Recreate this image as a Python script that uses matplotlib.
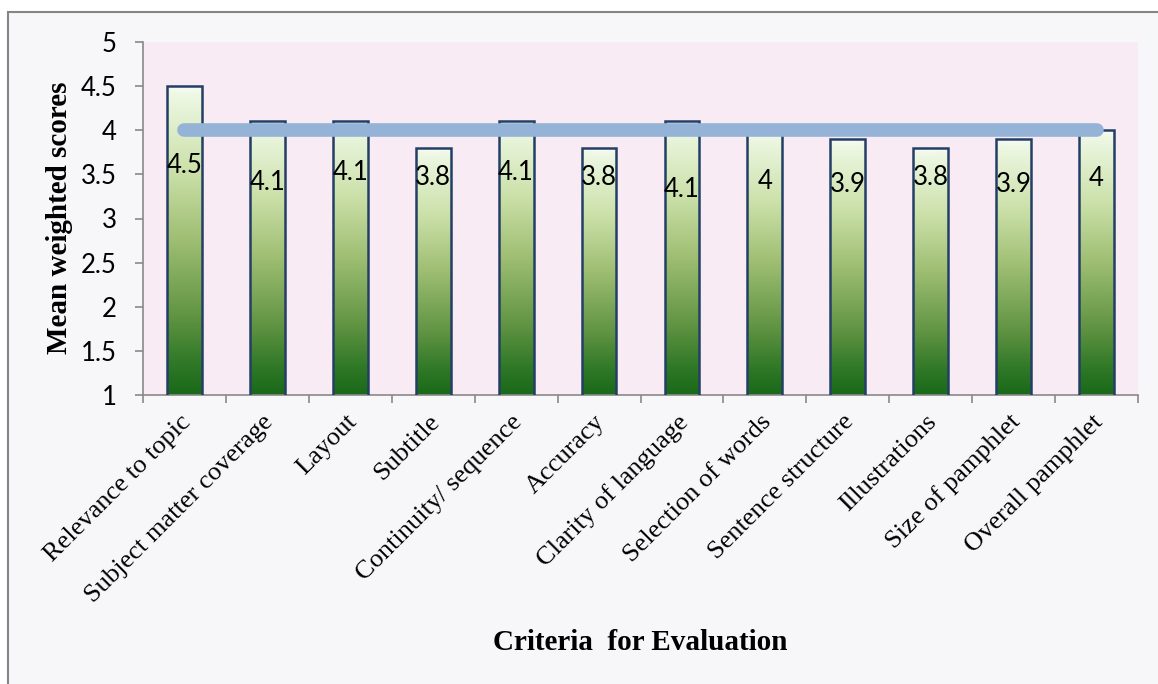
import matplotlib
matplotlib.use("Agg")
import matplotlib.pyplot as plt
import matplotlib.transforms as mtransforms
from matplotlib.colors import LinearSegmentedColormap
from matplotlib.patches import Rectangle
import numpy as np

# criteria and mean weighted scores
criteria = ["Relevance to topic", "Subject matter coverage", "Layout", "Subtitle",
            "Continuity/ sequence", "Accuracy", "Clarity of language",
            "Selection of words", "Sentence structure", "Illustrations",
            "Size of pamphlet", "Overall pamphlet"]
scores = [4.5, 4.1, 4.1, 3.8, 4.1, 3.8, 4.1, 4.0, 3.9, 3.8, 3.9, 4.0]
score_text = ["4.5", "4.1", "4.1", "3.8", "4.1", "3.8", "4.1", "4", "3.9", "3.8", "3.9", "4"]
mean_score = 4.0
yticks = [1, 1.5, 2, 2.5, 3, 3.5, 4, 4.5, 5]
ytick_text = ["1", "1.5", "2", "2.5", "3", "3.5", "4", "4.5", "5"]

# heights where the value labels sit inside the bars
label_y = [3.60, 3.41, 3.52, 3.46, 3.52, 3.46, 3.33, 3.42, 3.39, 3.46, 3.38, 3.45]

W, H = 1158, 684
fig = plt.figure(figsize=(W / 100, H / 100), dpi=100, facecolor="white")

# chart area frame
fig.patches.append(Rectangle((8 / W, -0.1), 1.2, 1 - 12 / H + 0.1,
                             transform=fig.transFigure, facecolor="#F7F7FA",
                             edgecolor="#858585", linewidth=1.5, zorder=-10))

ax = fig.add_axes([143 / W, 1 - 395 / H, (1138 - 143) / W, (395 - 42) / H])
ax.set_zorder(1)
ax.set_facecolor("#F9EBF3")

x = np.arange(len(criteria))
bw = 0.42

cmap = LinearSegmentedColormap.from_list("bar", [
    (0.0, "#196919"), (0.1, "#2F7827"), (0.25, "#5F9342"), (0.5, "#9EBE72"),
    (0.73, "#CCE1AA"), (0.9, "#E3F1D2"), (1.0, "#F2FAEA")])
grad = np.linspace(0, 1, 256).reshape(-1, 1)

# white gloss near the top of each bar
gloss = np.ones((64, 32, 4))
gv = np.linspace(0, 1, 64)[:, None]
gu = np.linspace(-1, 1, 32)[None, :]
gloss[..., 3] = np.clip(gv ** 3 * (1 - 0.6 * gu ** 2), 0, 1) * 0.9

bars = ax.bar(x, scores, width=bw, facecolor="none", edgecolor="#243F66",
              linewidth=1.8, zorder=3)
for b, s in zip(bars, scores):
    x0 = b.get_x()
    im = ax.imshow(grad, cmap=cmap, origin="lower", aspect="auto",
                   extent=[x0, x0 + bw, 1, s], zorder=2, interpolation="bicubic")
    im.set_clip_path(b)
    gl = ax.imshow(gloss, origin="lower", aspect="auto",
                   extent=[x0, x0 + bw, s - 0.16, s], zorder=2.5,
                   interpolation="bicubic")
    gl.set_clip_path(b)

# mean line
ax.plot([x[0], x[-1]], [mean_score, mean_score], color="#95B3D7", lw=9.8,
        solid_capstyle="round", zorder=4)

for xi, ly, t in zip(x, label_y, score_text):
    ax.text(xi, ly, t, ha="center", va="center", fontsize=18.5,
            family="Lato", color="black", zorder=5)

ax.set_xlim(-0.5, len(criteria) - 0.5)
ax.set_ylim(1, 5)
ax.set_yticks(yticks)
ax.set_yticklabels(ytick_text, fontsize=18.5, family="Lato")
ax.tick_params(axis="y", length=6, width=1.2, color="#898989", pad=13)

ax.set_xticks(x)
ax.set_xticklabels(criteria, rotation=45, ha="right", va="center",
                   rotation_mode="anchor", fontsize=19, family="Liberation Serif")
ax.tick_params(axis="x", length=0, pad=17)
ax.set_xticks(np.arange(-0.5, len(criteria)), minor=True)
ax.tick_params(axis="x", which="minor", length=6, width=1.2, color="#898989")
shift = mtransforms.ScaledTranslation(2 / 72, 0, fig.dpi_scale_trans)
for lab in ax.get_xticklabels():
    lab.set_transform(lab.get_transform() + shift)

for side in ["top", "right"]:
    ax.spines[side].set_visible(False)
for side in ["left", "bottom"]:
    ax.spines[side].set_color("#898989")
    ax.spines[side].set_linewidth(1.2)

fig.text(60 / W, 1 - 218 / H, "Mean weighted scores", rotation=90, ha="center",
         va="center", fontsize=21, fontweight="bold", family="Liberation Serif")
fig.text(640 / W, 1 - 642 / H, "Criteria  for Evaluation", ha="center",
         va="center", fontsize=21, fontweight="bold", family="Liberation Serif")

fig.savefig("out.png", dpi=100, facecolor=fig.get_facecolor())
